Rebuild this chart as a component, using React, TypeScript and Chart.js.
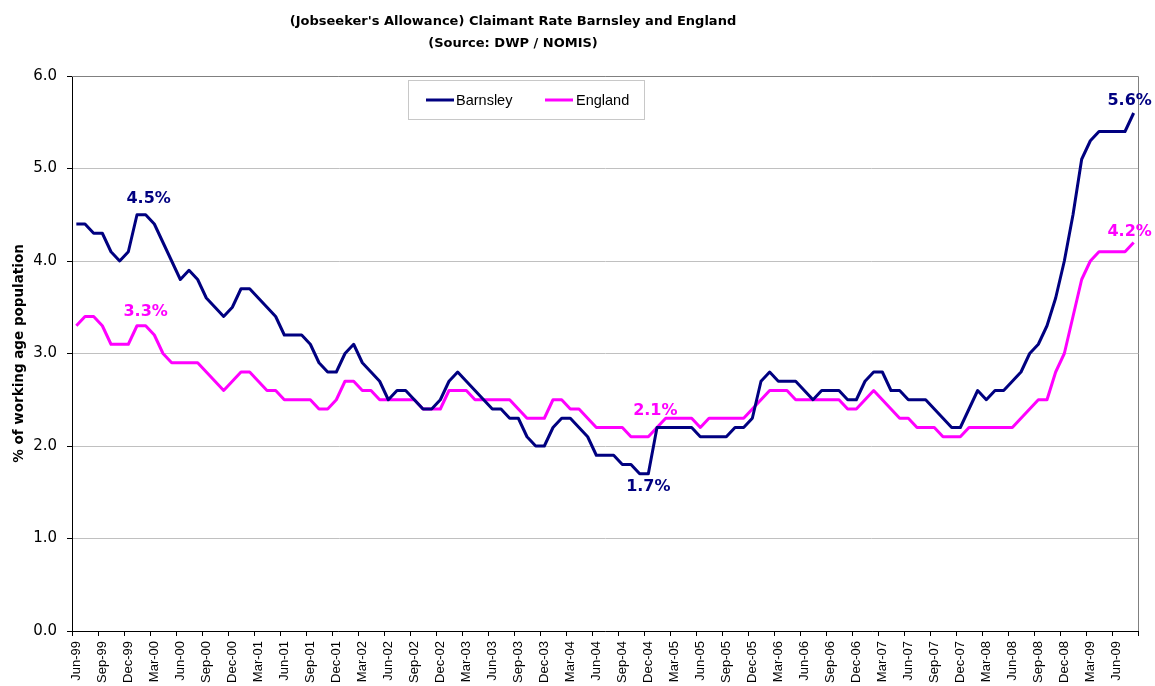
import React, { useEffect, useRef } from 'react';
import { Chart, registerables } from 'chart.js';

Chart.register(...registerables);

// ---------- DATA ----------
const titleLines = ["(Jobseeker's Allowance) Claimant Rate Barnsley and England", '(Source: DWP / NOMIS)'];
const yAxisTitle = '% of working age population';
const seriesNames = ['Barnsley', 'England'];

const MONTH_NAMES = ['Jan', 'Feb', 'Mar', 'Apr', 'May', 'Jun', 'Jul', 'Aug', 'Sep', 'Oct', 'Nov', 'Dec'];
const START_YEAR = 1999;
const START_MONTH = 5; // June
const MONTH_COUNT = 123; // Jun-99 .. Aug-09
const categories: string[] = Array.from({ length: MONTH_COUNT }, (_, i) => {
  const m = START_MONTH + i;
  const y = START_YEAR + Math.floor(m / 12);
  return `${MONTH_NAMES[m % 12]}-${String(y % 100).padStart(2, '0')}`;
});

const barnsley = [
  4.4, 4.4, 4.3, 4.3, 4.1, 4.0, 4.1, 4.5, 4.5, 4.4, 4.2, 4.0, 3.8, 3.9, 3.8, 3.6, 3.5, 3.4, 3.5, 3.7, 3.7, 3.6, 3.5, 3.4, 3.2, 3.2, 3.2, 3.1, 2.9, 2.8, 2.8, 3.0, 3.1,
  2.9, 2.8, 2.7, 2.5, 2.6, 2.6, 2.5, 2.4, 2.4, 2.5, 2.7, 2.8, 2.7, 2.6, 2.5, 2.4, 2.4, 2.3, 2.3, 2.1, 2.0, 2.0, 2.2, 2.3, 2.3, 2.2, 2.1, 1.9, 1.9, 1.9, 1.8, 1.8, 1.7,
  1.7, 2.2, 2.2, 2.2, 2.2, 2.2, 2.1, 2.1, 2.1, 2.1, 2.2, 2.2, 2.3, 2.7, 2.8, 2.7, 2.7, 2.7, 2.6, 2.5, 2.6, 2.6, 2.6, 2.5, 2.5, 2.7, 2.8,
  2.8, 2.6, 2.6, 2.5, 2.5, 2.5, 2.4, 2.3, 2.2, 2.2, 2.4, 2.6, 2.5, 2.6, 2.6, 2.7, 2.8, 3.0, 3.1, 3.3, 3.6, 4.0, 4.5, 5.1, 5.3, 5.4, 5.4, 5.4, 5.4, 5.6,
];

const england = [
  3.3, 3.4, 3.4, 3.3, 3.1, 3.1, 3.1, 3.3, 3.3, 3.2, 3.0, 2.9, 2.9, 2.9, 2.9, 2.8, 2.7, 2.6, 2.7, 2.8, 2.8, 2.7, 2.6, 2.6, 2.5, 2.5, 2.5, 2.5, 2.4, 2.4, 2.5, 2.7, 2.7,
  2.6, 2.6, 2.5, 2.5, 2.5, 2.5, 2.5, 2.4, 2.4, 2.4, 2.6, 2.6, 2.6, 2.5, 2.5, 2.5, 2.5, 2.5, 2.4, 2.3, 2.3, 2.3, 2.5, 2.5, 2.4, 2.4, 2.3, 2.2, 2.2, 2.2, 2.2, 2.1, 2.1,
  2.1, 2.2, 2.3, 2.3, 2.3, 2.3, 2.2, 2.3, 2.3, 2.3, 2.3, 2.3, 2.4, 2.5, 2.6, 2.6, 2.6, 2.5, 2.5, 2.5, 2.5, 2.5, 2.5, 2.4, 2.4, 2.5, 2.6,
  2.5, 2.4, 2.3, 2.3, 2.2, 2.2, 2.2, 2.1, 2.1, 2.1, 2.2, 2.2, 2.2, 2.2, 2.2, 2.2, 2.3, 2.4, 2.5, 2.5, 2.8, 3.0, 3.4, 3.8, 4.0, 4.1, 4.1, 4.1, 4.1, 4.2,
];

const yMin = 0;
const yMax = 6;
const yStep = 1;

// point labels: which series / which month gets a value label
const pointLabelSeries = [0, 1, 1, 0, 0, 1];
const pointLabelIndex = [8, 8, 66, 66, 122, 122];

// ---------- STYLE ----------
const colors = ['#000080', '#FF00FF'];
const pointLabelOffsets: [number, number][] = [
  [3, -16],
  [0, -14],
  [7, -26],
  [0, 13],
  [-4, -12],
  [-4, -10.5],
];

const decorPlugin = {
  id: 'decor',
  beforeDatasetsDraw(chart: any) {
    const { ctx, chartArea: a } = chart;
    ctx.save();
    ctx.strokeStyle = '#808080';
    ctx.lineWidth = 1;
    ctx.beginPath();
    ctx.moveTo(a.left, Math.round(a.top) + 0.5);
    ctx.lineTo(Math.round(a.right) + 0.5, Math.round(a.top) + 0.5);
    ctx.lineTo(Math.round(a.right) + 0.5, a.bottom);
    ctx.stroke();
    ctx.restore();
  },
  afterDraw(chart: any) {
    const { ctx } = chart;
    ctx.save();
    // Title
    ctx.fillStyle = '#000';
    ctx.textAlign = 'center';
    ctx.textBaseline = 'middle';
    ctx.font = 'bold 13px "DejaVu Sans"';
    ctx.fillText(titleLines[0], 513, 22);
    ctx.fillText(titleLines[1], 513, 44);

    // Legend box
    ctx.fillStyle = '#fff';
    ctx.fillRect(408.5, 80.5, 236, 39);
    ctx.strokeStyle = '#c8c8c8';
    ctx.lineWidth = 1;
    ctx.strokeRect(408.5, 80.5, 236, 39);
    const items = [
      { x: 426, tx: 456 },
      { x: 545, tx: 576 },
    ];
    ctx.font = '14.5px "Liberation Sans"';
    ctx.textAlign = 'left';
    items.forEach((it, i) => {
      ctx.strokeStyle = colors[i];
      ctx.lineWidth = 3;
      ctx.beginPath();
      ctx.moveTo(it.x, 100);
      ctx.lineTo(it.x + 28, 100);
      ctx.stroke();
      ctx.fillStyle = '#000';
      ctx.fillText(seriesNames[i], it.tx, 100.5);
    });

    // Point value labels
    ctx.font = 'bold 16px "DejaVu Sans"';
    ctx.textAlign = 'center';
    ctx.textBaseline = 'middle';
    pointLabelSeries.forEach((s, k) => {
      const meta = chart.getDatasetMeta(s);
      const el = meta.data[pointLabelIndex[k]];
      if (!el) return;
      const v = (s === 0 ? barnsley : england)[pointLabelIndex[k]];
      ctx.fillStyle = colors[s];
      ctx.fillText(v.toFixed(1) + '%', el.x + pointLabelOffsets[k][0], el.y + pointLabelOffsets[k][1]);
    });
    ctx.restore();
  },
};

export default function App() {
  const ref = useRef<HTMLCanvasElement | null>(null);
  useEffect(() => {
    if (!ref.current) return;
    const chart = new Chart(ref.current, {
      type: 'line',
      data: {
        labels: categories,
        datasets: [
          { label: seriesNames[0], data: barnsley, borderColor: colors[0], backgroundColor: colors[0], borderWidth: 3, pointRadius: 0, tension: 0, borderJoinStyle: 'round' },
          { label: seriesNames[1], data: england, borderColor: colors[1], backgroundColor: colors[1], borderWidth: 3, pointRadius: 0, tension: 0, borderJoinStyle: 'round' },
        ],
      },
      options: {
        responsive: false,
        animation: false,
        devicePixelRatio: 1,
        layout: { padding: { top: 76, right: 17, bottom: 0, left: 0 } },
        plugins: { legend: { display: false }, title: { display: false }, tooltip: { enabled: false } },
        scales: {
          x: {
            type: 'category',
            offset: true,
            afterFit: (s: any) => { s.height = 55; },
            grid: {
              offset: true,
              drawOnChartArea: false,
              drawTicks: true,
              tickLength: 5,
              tickColor: (c: any) => (c.index === undefined || c.index % 3 === 0 ? '#000' : 'rgba(0,0,0,0)'),
            },
            border: { color: '#000', width: 1 },
            ticks: {
              autoSkip: false,
              maxRotation: 90,
              minRotation: 90,
              padding: 5,
              color: '#000',
              font: { family: '"Liberation Sans"', size: 13 },
              callback: (_v: any, i: number) => (i % 3 === 0 ? categories[i] : ''),
            },
          },
          y: {
            min: yMin,
            max: yMax,
            afterFit: (s: any) => { s.width = 72; },
            grid: { color: '#c0c0c0', lineWidth: 1, drawTicks: true, tickLength: 5, tickColor: '#000' },
            border: { color: '#000', width: 1 },
            ticks: {
              stepSize: yStep,
              padding: 10,
              color: '#000',
              font: { family: '"DejaVu Sans"', size: 15 },
              callback: (v: any) => Number(v).toFixed(1),
            },
            title: {
              display: true,
              text: yAxisTitle,
              color: '#000',
              font: { family: '"DejaVu Sans"', size: 13.5, weight: 'bold' },
              padding: { top: 11, bottom: 0 },
            },
          },
        },
      },
      plugins: [decorPlugin],
    } as any);
    return () => chart.destroy();
  }, []);
  return (
    <div style={{ position: 'fixed', left: 0, top: 0, width: 1155, height: 686, background: '#fff' }}>
      <canvas ref={ref} width={1155} height={686} style={{ display: 'block' }} />
    </div>
  );
}
